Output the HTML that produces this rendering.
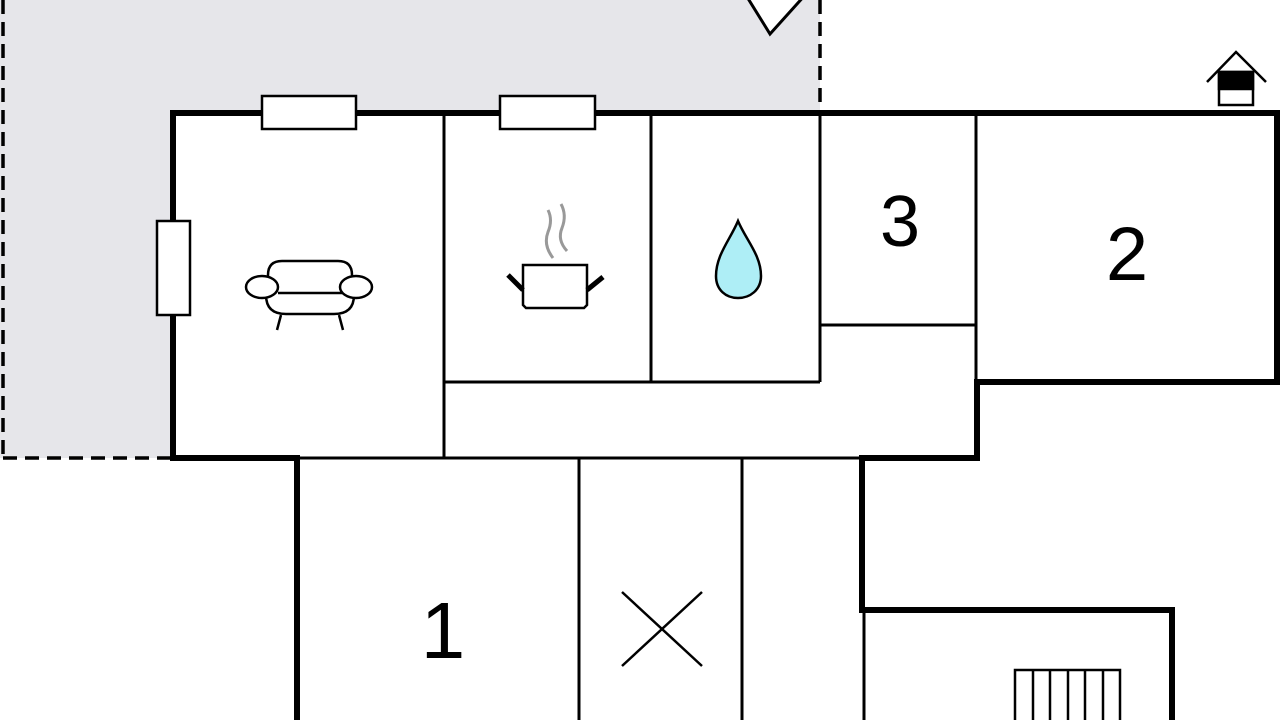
<!DOCTYPE html>
<html><head><style>html,body{margin:0;padding:0;background:#fff;width:1280px;height:720px;overflow:hidden}</style></head>
<body>
<svg width="1280" height="720" viewBox="0 0 1280 720" xmlns="http://www.w3.org/2000/svg">
<rect x="0" y="0" width="820" height="458" fill="#e6e6ea"/>
<rect x="173" y="113" width="647" height="345" fill="#fff"/>
<g stroke="#000" stroke-width="3.5" stroke-dasharray="14,8" fill="none">
<line x1="3" y1="0" x2="3" y2="458"/>
<line x1="3" y1="458" x2="173" y2="458"/>
<line x1="820" y1="0" x2="820" y2="110"/>
</g>
<polygon points="744,-8 770,34 806,-6" fill="#fff" stroke="#000" stroke-width="3"/>
<g stroke="#000" stroke-width="3" fill="none">
<line x1="444" y1="113" x2="444" y2="458"/>
<line x1="444" y1="382" x2="820" y2="382"/>
<line x1="651" y1="113" x2="651" y2="382"/>
<line x1="820" y1="113" x2="820" y2="382"/>
<line x1="976" y1="113" x2="976" y2="382"/>
<line x1="820" y1="325" x2="976" y2="325"/>
<line x1="297" y1="458" x2="862" y2="458"/>
<line x1="579" y1="458" x2="579" y2="720"/>
<line x1="742" y1="458" x2="742" y2="720"/>
<line x1="864" y1="610" x2="864" y2="720"/>
</g>
<g stroke="#000" stroke-width="6" fill="none" stroke-linejoin="miter">
<polyline points="297,720 297,458 173,458 173,113 1277,113 1277,382 977,382 977,458 862,458 862,610 1172,610 1172,720"/>
</g>
<g fill="#fff" stroke="#000" stroke-width="2.5">
<rect x="262" y="96" width="94" height="33"/>
<rect x="500" y="96" width="95" height="33"/>
<rect x="157" y="221" width="33" height="94"/>
</g>
<g font-family="Liberation Sans, sans-serif" fill="#000" text-anchor="middle">
<text x="900" y="246" font-size="72">3</text>
<text x="1127" y="280" font-size="76">2</text>
<text x="443" y="658" font-size="80">1</text>
</g>
<g stroke="#000" stroke-width="2.5">
<line x1="622" y1="592" x2="702" y2="666"/>
<line x1="702" y1="592" x2="622" y2="666"/>
</g>
<g stroke="#000" stroke-width="2.5" fill="none">
<rect x="1015" y="670" width="105" height="60"/>
<line x1="1033" y1="670" x2="1033" y2="720"/>
<line x1="1050" y1="670" x2="1050" y2="720"/>
<line x1="1068" y1="670" x2="1068" y2="720"/>
<line x1="1085" y1="670" x2="1085" y2="720"/>
<line x1="1103" y1="670" x2="1103" y2="720"/>
</g>
<path d="M738,221 C730,240 716,255 716,276 C716,290 726,298 738,298 C750,298 761,290 761,276 C761,255 746,240 738,221Z" fill="#aeeef6" stroke="#000" stroke-width="2.5"/>
<g stroke="#000" stroke-width="2.5" fill="#fff">
<path d="M268,292 L268,275 Q268,261 282,261 L338,261 Q352,261 352,275 L352,292"/>
<path d="M266,295 Q266,314 286,314 L334,314 Q354,314 354,295"/>
<line x1="278" y1="293" x2="342" y2="293"/>
<ellipse cx="262" cy="287" rx="16" ry="11"/>
<ellipse cx="356" cy="287" rx="16" ry="11"/>
<line x1="281" y1="315" x2="277" y2="330"/>
<line x1="339" y1="315" x2="343" y2="330"/>
</g>
<g>
<path d="M523,265 L587,265 L587,305 L584,308 L526,308 L523,305Z" fill="#fff" stroke="#000" stroke-width="2.5"/>
<line x1="508" y1="275" x2="523" y2="290" stroke="#000" stroke-width="5"/>
<line x1="603" y1="277" x2="587" y2="290" stroke="#000" stroke-width="5"/>
<path d="M548,210 Q553,220 548,232 Q543,245 553,258" stroke="#999" stroke-width="3" fill="none"/>
<path d="M561,204 Q567,215 562,228 Q557,240 567,251" stroke="#999" stroke-width="3" fill="none"/>
</g>
<g stroke="#000" stroke-width="2.5">
<polyline points="1207,82 1236,52 1266,82" fill="none"/>
<rect x="1219" y="72" width="34" height="33" fill="#fff"/>
<rect x="1219" y="72" width="34" height="17" fill="#000"/>
</g>
</svg>
</body></html>
